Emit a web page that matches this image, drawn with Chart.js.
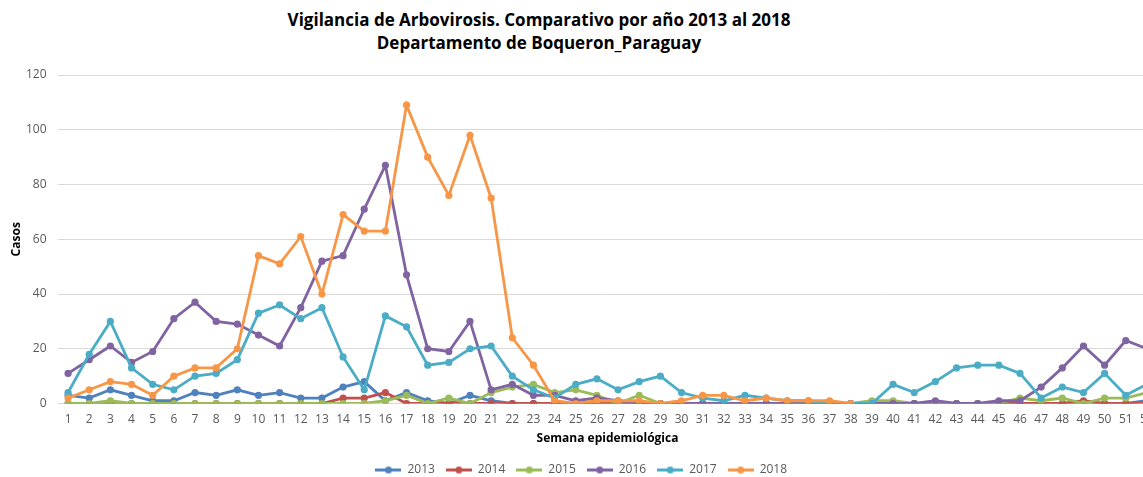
<!DOCTYPE html>
<html>
<head>
<meta charset="utf-8">
<script src="https://cdn.jsdelivr.net/npm/chart.js@4.4.0/dist/chart.umd.min.js"></script>
<style>
  html, body { margin: 0; padding: 0; background: #fff; overflow: hidden; width: 1143px; height: 477px; }
  #title { position: absolute; left: 239px; width: 600px; top: 8px; text-align: center;
           font-family: "Open Sans", sans-serif; font-weight: bold; font-size: 17px; line-height: 23px;
           color: #000; }
  #wrap { position: absolute; left: 0; top: 0; width: 1170px; height: 477px; }
</style>
</head>
<body>
<div id="title">Vigilancia de Arbovirosis. Comparativo por año 2013 al 2018<br>Departamento de Boqueron_Paraguay</div>
<div id="wrap"><canvas id="c" width="1170" height="477"></canvas></div>
<script>
const weeks = Array.from({length: 52}, (_, i) => String(i + 1));
const seriesNames = ["2013", "2014", "2015", "2016", "2017", "2018"];
const seriesColors = ["#4F81BD", "#C0504D", "#9BBB59", "#8064A2", "#4BACC6", "#F79646"];

const y2013 = [3,2,5,3,1,1,4,3,5,3,4,2,2,6,8,1,4,1,0,3,1,0,0,0,0,0,0,0,0,0,0,0,0,0,0,0,0,0,0,0,0,0,0,0,0,0,0,0,0,0,0,1];
const y2014 = [0,0,0,0,0,0,0,0,0,0,0,0,0,2,2,4,0,0,0,0,0,0,0,0,0,0,0,0,0,0,0,0,0,0,0,0,0,0,0,0,0,0,0,0,0,0,0,0,1,0,0,0];
const y2015 = [0,0,1,0,0,0,0,0,0,0,0,0,0,0,0,1,3,0,2,0,4,6,7,4,5,3,0,3,0,0,0,0,0,0,0,0,0,0,1,1,0,0,0,0,0,2,1,2,0,2,2,4];
const y2016 = [11,16,21,15,19,31,37,30,29,25,21,35,52,54,71,87,47,20,19,30,5,7,3,3,1,2,1,0,0,0,0,0,0,0,0,0,0,0,0,0,0,1,0,0,1,1,6,13,21,14,23,20];
const y2017 = [4,18,30,13,7,5,10,11,16,33,36,31,35,17,5,32,28,14,15,20,21,10,5,2,7,9,5,8,10,4,2,1,3,2,1,1,0,0,0,7,4,8,13,14,14,11,2,6,4,11,3,7];
const y2018 = [2,5,8,7,3,10,13,13,20,54,51,61,40,69,63,63,109,90,76,98,75,24,14,1,0,1,1,1,0,1,3,3,1,2,1,1,1,0];
const yTicks = [0, 20, 40, 60, 80, 100, 120];

const seriesData = [y2013, y2014, y2015, y2016, y2017, y2018];

function makeMarker(color) {
  const c = document.createElement('canvas');
  c.width = 26; c.height = 9;
  const g = c.getContext('2d');
  g.strokeStyle = color; g.lineWidth = 3;
  g.beginPath(); g.moveTo(0, 4.5); g.lineTo(26, 4.5); g.stroke();
  g.fillStyle = color;
  g.beginPath(); g.arc(13, 4.5, 3.5, 0, Math.PI * 2); g.fill();
  return c;
}
const markers = seriesColors.map(makeMarker);

const datasets = seriesNames.map((name, i) => ({
  label: name,
  data: seriesData[i],
  borderColor: seriesColors[i],
  backgroundColor: seriesColors[i],
  pointBackgroundColor: seriesColors[i],
  pointBorderColor: seriesColors[i],
  pointBorderWidth: 0,
  pointRadius: 3.6,
  borderWidth: 2.8,
  tension: 0,
  fill: false,
  order: seriesNames.length - i
}));

const FONT = '"Open Sans", sans-serif';

new Chart(document.getElementById('c'), {
  type: 'line',
  data: { labels: weeks, datasets },
  options: {
    responsive: false,
    devicePixelRatio: 1,
    animation: false,
    layout: { padding: { left: 5, top: 75, right: 12.5, bottom: -9 } },
    plugins: {
      title: { display: false },
      tooltip: { enabled: false },
      legend: {
        display: true,
        position: 'bottom',
        labels: {
          usePointStyle: true,
          pointStyleWidth: 26,
          padding: 11,
          color: '#595959',
          font: { family: FONT, size: 12 },
          sort: (a, b) => a.datasetIndex - b.datasetIndex,
          generateLabels(chart) {
            const items = Chart.defaults.plugins.legend.labels.generateLabels(chart);
            items.forEach(it => { it.pointStyle = markers[it.datasetIndex]; });
            return items;
          }
        }
      }
    },
    scales: {
      x: {
        type: 'category',
        offset: true,
        grid: { display: false, drawTicks: false },
        border: { display: false },
        ticks: { color: '#595959', font: { family: FONT, size: 12 }, padding: 9, maxRotation: 0, autoSkip: false },
        title: { display: true, text: 'Semana epidemiológica', color: '#000', font: { family: FONT, size: 12, weight: 'bold' }, padding: { top: 4, bottom: 7 } },
        afterFit(scale) { scale.height = 49.5; }
      },
      y: {
        min: 0, max: 120,
        afterBuildTicks(scale) { scale.ticks = yTicks.map(v => ({ value: v })); },
        grid: { color: '#D9D9D9', lineWidth: 1, drawTicks: false },
        border: { display: false },
        ticks: { color: '#595959', font: { family: FONT, size: 12 }, padding: 11 },
        title: { display: true, text: 'Casos', color: '#000', font: { family: FONT, size: 12, weight: 'bold' }, padding: { top: 4, bottom: 4 } },
        afterFit(scale) { scale.width = 52.5; }
      }
    }
  }
});
</script>
</body>
</html>
